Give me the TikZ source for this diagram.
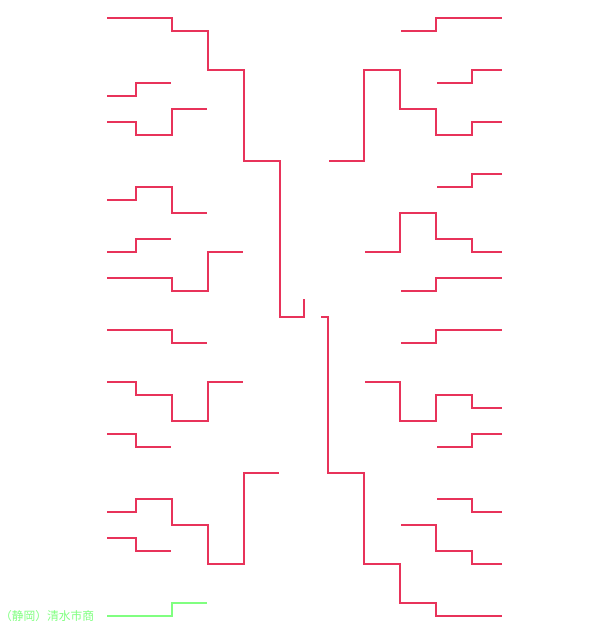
\documentclass[tikz,border=0pt]{standalone}
\usepackage{fontspec}
\newfontfamily\cjk{Noto Sans CJK JP}
\definecolor{brk}{HTML}{E8335A}
\definecolor{win}{HTML}{80FF80}
\tikzset{bl/.style={draw=brk,line width=2pt,miter limit=10},
         wl/.style={draw=win,line width=2pt}}
\begin{document}
\begin{tikzpicture}[x=1pt,y=-1pt]
\useasboundingbox[fill=white] (0,0) rectangle (609,622);
% left half
\draw[bl] (107,17.7)-|(172,30.7)-|(208,69.7)-|(244,160.7)-|(280,316.7)-|(304,299);
\draw[bl] (107,95.7)-|(136,82.7)--(171,82.7);
\draw[bl] (107,121.7)-|(136,134.7)-|(172,108.7)--(207,108.7);
\draw[bl] (107,199.7)-|(136,186.7)-|(172,212.7)--(207,212.7);
\draw[bl] (107,251.7)-|(136,238.7)--(171,238.7);
\draw[bl] (107,277.7)-|(172,290.7)-|(208,251.7)--(243,251.7);
\draw[bl] (107,329.7)-|(172,342.7)--(207,342.7);
\draw[bl] (107,381.7)-|(136,394.7)-|(172,420.7)-|(208,381.7)--(243,381.7);
\draw[bl] (107,433.7)-|(136,446.7)--(171,446.7);
\draw[bl] (107,511.7)-|(136,498.7)-|(172,524.7)-|(208,563.7)-|(244,472.7)--(279,472.7);
\draw[bl] (107,537.7)-|(136,550.7)--(171,550.7);
\draw[wl] (107,615.7)-|(172,602.7)--(207,602.7);
% right half
\draw[bl] (401,30.7)-|(436,17.7)--(502,17.7);
\draw[bl] (437,82.7)-|(472,69.7)--(502,69.7);
\draw[bl] (329,160.7)-|(364,69.7)-|(400,108.7)-|(436,134.7)-|(472,121.7)--(502,121.7);
\draw[bl] (437,186.7)-|(472,173.7)--(502,173.7);
\draw[bl] (365,251.7)-|(400,212.7)-|(436,238.7)-|(472,251.7)--(502,251.7);
\draw[bl] (401,290.7)-|(436,277.7)--(502,277.7);
\draw[bl] (401,342.7)-|(436,329.7)--(502,329.7);
\draw[bl] (365,381.7)-|(400,420.7)-|(436,394.7)-|(472,407.7)--(502,407.7);
\draw[bl] (437,446.7)-|(472,433.7)--(502,433.7);
\draw[bl] (437,498.7)-|(472,511.7)--(502,511.7);
\draw[bl] (401,524.7)-|(436,550.7)-|(472,563.7)--(502,563.7);
\draw[bl] (321,316.7)-|(328,472.7)-|(364,563.7)-|(400,602.7)-|(436,615.7)--(502,615.7);
% label
\node[anchor=west,inner sep=0pt,text=win,font=\cjk\fontsize{11.75}{12}\selectfont] (champ) at (0,616) {（静岡）清水市商};
\end{tikzpicture}
\end{document}
